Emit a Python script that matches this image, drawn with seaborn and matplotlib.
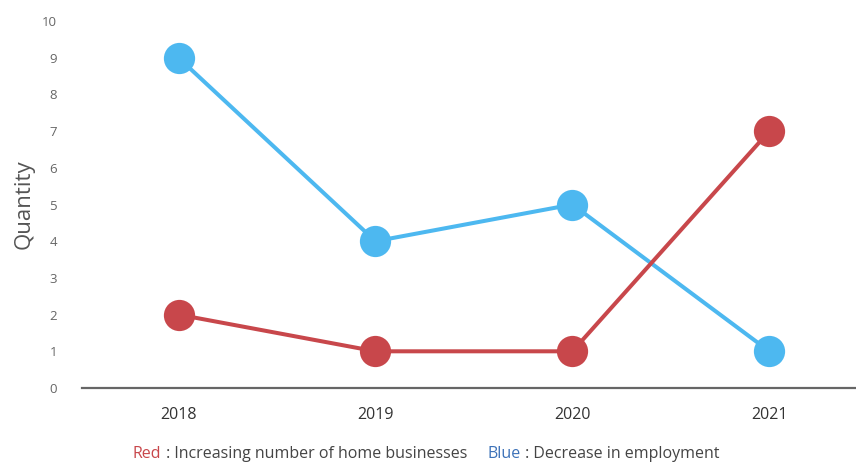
import matplotlib
matplotlib.use("Agg")
import matplotlib.pyplot as plt
import seaborn as sns
import pandas as pd

years = ["2018", "2019", "2020", "2021"]
red_values = [2, 1, 1, 7]
blue_values = [9, 4, 5, 1]
y_ticks = [0, 1, 2, 3, 4, 5, 6, 7, 8, 9, 10]

RED = "#C8474B"
BLUE = "#4DB8F0"

sns.set_theme(style="white")
plt.rcParams["font.family"] = ["Open Sans", "DejaVu Sans"]

df = pd.DataFrame({
    "pos": list(range(len(years))) * 2,
    "value": red_values + blue_values,
    "series": ["Red"] * len(years) + ["Blue"] * len(years),
})

fig = plt.figure(figsize=(8.56, 4.63), dpi=100)
ax = fig.add_axes([0.0958, 0.162, 0.9042, 0.7925])

sns.lineplot(data=df, x="pos", y="value", hue="series",
             palette={"Red": RED, "Blue": BLUE}, hue_order=["Blue", "Red"],
             marker="o", markersize=22.5, markeredgewidth=0, linewidth=2.9,
             legend=False, ax=ax)

ax.set_xlim(-0.49, 3.44)
ax.set_ylim(0, 10)
ax.set_xticks(range(len(years)))
ax.set_xticklabels(years, fontsize=11.5, color="#333333")
ax.set_yticks(y_ticks)
ax.set_yticklabels([str(t) for t in y_ticks], fontsize=9.5, color="#666666")
ax.tick_params(axis="y", length=0, pad=18)
ax.tick_params(axis="x", length=0, pad=14)
ax.set_xlabel("")
ax.set_ylabel("Quantity", fontsize=16, color="#555555", labelpad=5)
for s in ["top", "right", "left"]:
    ax.spines[s].set_visible(False)
ax.spines["bottom"].set_color("#666666")
ax.spines["bottom"].set_linewidth(1.6)
for l in ax.get_lines():
    l.set_clip_on(False)

# Bottom caption with coloured pieces
pieces = [("Red", RED), (" : Increasing number of home businesses", "#444444"),
          ("     ", "#444444"), ("Blue", "#3D72B8"), (" : Decrease in employment", "#444444")]
fig.canvas.draw()
renderer = fig.canvas.get_renderer()
x = 133
y = 463 - 454
for txt, col in pieces:
    t = fig.text(x / 856, y / 463, txt, color=col, fontsize=11.5, va="center", ha="left")
    bb = t.get_window_extent(renderer=renderer)
    x += bb.width

fig.savefig("out.png", dpi=100)
